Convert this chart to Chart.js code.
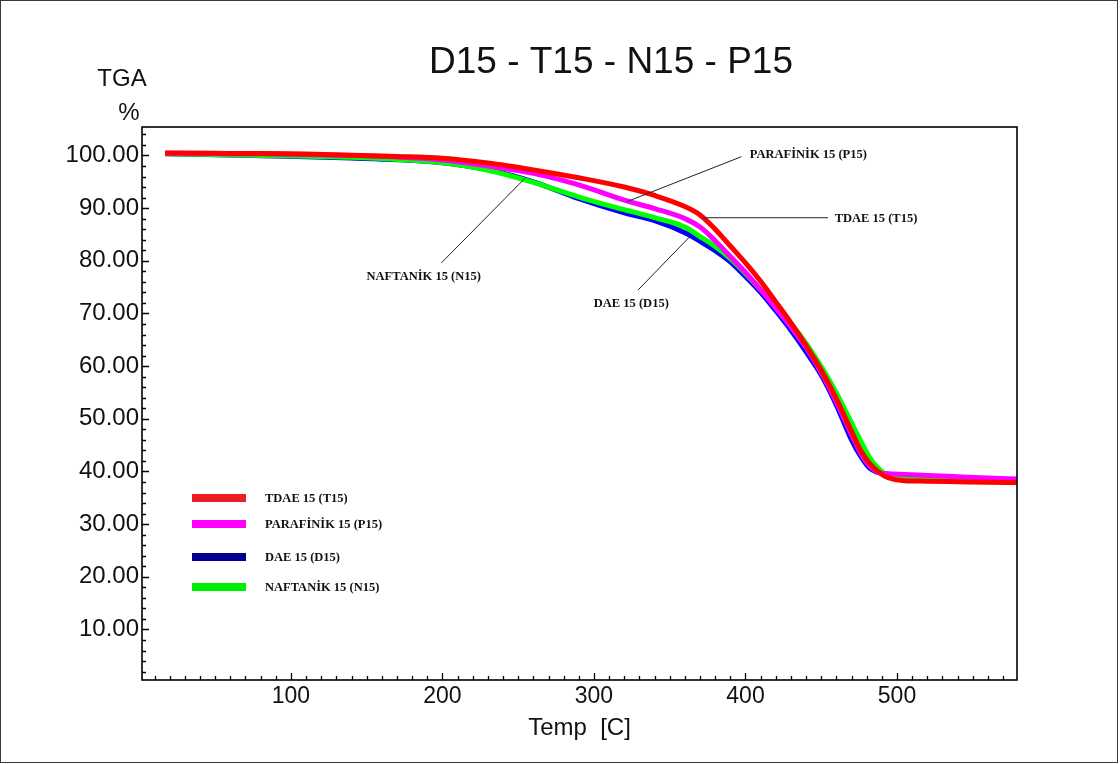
<!DOCTYPE html>
<html>
<head>
<meta charset="utf-8">
<title>D15 - T15 - N15 - P15</title>
<script src="https://cdn.jsdelivr.net/npm/chart.js@4.4.1/dist/chart.umd.min.js"></script>
<style>
  html, body { margin: 0; padding: 0; background: #fff; }
  #wrap { width: 1120px; height: 764px; }
  canvas { display: block; }
</style>
</head>
<body>
<div id="wrap"><canvas id="tga" width="1120" height="764"></canvas></div>
<script>
// Thermogravimetric curves: remaining mass (%) against temperature (°C)
const temperatures = [17, 50, 80, 110, 140, 170, 200, 230, 260, 290, 320, 340, 360, 370, 380, 390, 400,
  410, 420, 430, 440, 450, 460, 470, 476, 482, 487, 492, 498, 505, 520, 540, 560, 579];

const tdae15 = [100.45, 100.4, 100.35, 100.25, 100.05, 99.8, 99.45, 98.55, 97.25, 95.75, 94.0, 92.4, 90.3, 88.7, 86.0, 82.8, 79.6,
  76.1, 72.2, 68.2, 63.9, 59.2, 53.8, 47.6, 44.0, 41.5, 40.1, 39.1, 38.5, 38.25, 38.15, 38.05, 37.95, 37.9];

const parafinik15 = [100.4, 100.35, 100.3, 100.2, 100.0, 99.7, 99.15, 98.0, 96.6, 94.4, 91.5, 89.9, 88.0, 86.4, 83.8, 80.8, 77.8,
  74.5, 71.0, 67.4, 63.5, 58.8, 53.2, 47.0, 43.5, 41.0, 39.9, 39.6, 39.5, 39.4, 39.25, 39.0, 38.75, 38.55];

const dae15 = [100.3, 100.15, 99.95, 99.75, 99.5, 99.2, 98.6, 97.3, 95.0, 91.8, 89.1, 87.6, 85.3, 83.7, 81.9, 79.8, 77.0,
  74.0, 70.5, 66.8, 62.7, 58.3, 52.6, 46.0, 42.9, 40.6, 39.85, 39.6, 39.35, 39.2, 39.0, 38.8, 38.6, 38.4];

const naftanik15 = [100.3, 100.2, 100.0, 99.85, 99.65, 99.25, 98.6, 97.2, 94.9, 92.1, 89.7, 88.2, 86.4, 84.6, 82.7, 80.4, 77.6,
  74.5, 71.4, 68.1, 64.3, 59.9, 54.9, 49.2, 45.8, 42.6, 40.8, 39.6, 39.0, 38.8, 38.6, 38.4, 38.2, 38.1];

const seriesNames = ['TDAE 15 (T15)', 'PARAFİNİK 15 (P15)', 'DAE 15 (D15)', 'NAFTANİK 15 (N15)'];
const xTickValues = [100, 200, 300, 400, 500];
const yTickValues = [10, 20, 30, 40, 50, 60, 70, 80, 90, 100];

const chartTitle = 'D15 - T15 - N15 - P15';
const yTitle = ['TGA', '%'];
const xTitle = 'Temp  [C]';

// Callout labels: curve point (temperature, %), end of the leader, label anchor
const callouts = [
  { text: 'PARAFİNİK 15 (P15)', from: [321.5, 91.2], to: [397.3, 99.76], at: [402.8, 100.27] },
  { text: 'TDAE 15 (T15)',      from: [372.0, 88.17], to: [454.5, 88.17], at: [458.9, 88.17] },
  { text: 'DAE 15 (D15)',       from: [363.2, 84.57], to: [329.1, 74.45], at: [299.9, 71.98] },
  { text: 'NAFTANİK 15 (N15)',  from: [254.4, 95.65], to: [199.4, 79.63], at: [149.9, 77.1] }
];

const lineColors = ['#ff0000', '#ff00ff', '#0000ff', '#00ff00'];
const keyColors = ['#ee1c24', '#ff00ff', '#000090', '#00ee00'];

const sansFont = "'Liberation Sans', Arial, sans-serif";
const serifFont = "'Liberation Serif', 'Times New Roman', serif";

function pairs(values) {
  return temperatures.map((t, i) => ({ x: t, y: values[i] }));
}

function curve(label, values, color, order) {
  return {
    label, data: pairs(values), borderColor: color, backgroundColor: color,
    borderWidth: 5, pointRadius: 0, fill: false, order,
    cubicInterpolationMode: 'monotone', borderJoinStyle: 'round', borderCapStyle: 'butt'
  };
}

// White page, plot frame, inward ticks, titles, key and callouts
const decorations = {
  id: 'decorations',
  beforeDraw(chart) {
    const ctx = chart.ctx;
    ctx.save();
    ctx.fillStyle = '#fff';
    ctx.fillRect(0, 0, chart.width, chart.height);
    ctx.restore();
  },
  afterDraw(chart) {
    const { ctx, chartArea: a, scales: { x, y } } = chart;
    ctx.save();

    // inward tick marks
    ctx.strokeStyle = '#000';
    ctx.lineWidth = 1.3;
    ctx.beginPath();
    for (let t = 10; t <= 570; t += 10) {
      const px = Math.round(x.getPixelForValue(t)) + 0.5;
      const len = t % 100 === 0 ? 7 : 4;
      ctx.moveTo(px, a.bottom);
      ctx.lineTo(px, a.bottom - len);
    }
    for (let v = 2; v <= 104; v += 2) {
      const py = Math.round(y.getPixelForValue(v)) + 0.5;
      const len = v % 10 === 0 ? 7 : 4;
      ctx.moveTo(a.left, py);
      ctx.lineTo(a.left + len, py);
    }
    ctx.stroke();

    // plot frame
    ctx.lineWidth = 1.6;
    ctx.strokeRect(a.left, a.top, a.right - a.left, a.bottom - a.top);

    // chart title and vertical axis caption
    ctx.fillStyle = '#111';
    ctx.textAlign = 'center';
    ctx.textBaseline = 'middle';
    ctx.font = '37px ' + sansFont;
    ctx.fillText(chartTitle, 611, 63);
    ctx.font = '24px ' + sansFont;
    ctx.fillText(yTitle[0], 122, 79);
    ctx.fillText(yTitle[1], 129, 113);

    // key
    const keyRows = [371, 397, 430, 460];
    ctx.font = 'bold 12.5px ' + serifFont;
    ctx.textAlign = 'left';
    seriesNames.forEach((name, i) => {
      const cy = a.top + keyRows[i];
      ctx.fillStyle = keyColors[i];
      ctx.fillRect(a.left + 50, cy - 4, 54, 8);
      ctx.fillStyle = '#111';
      ctx.fillText(name, a.left + 123, cy + 1);
    });

    // callouts
    ctx.strokeStyle = '#222';
    ctx.lineWidth = 1;
    callouts.forEach(c => {
      ctx.beginPath();
      ctx.moveTo(x.getPixelForValue(c.from[0]), y.getPixelForValue(c.from[1]));
      ctx.lineTo(x.getPixelForValue(c.to[0]), y.getPixelForValue(c.to[1]));
      ctx.stroke();
      ctx.fillStyle = '#111';
      ctx.fillText(c.text, x.getPixelForValue(c.at[0]), y.getPixelForValue(c.at[1]) + 1);
    });

    // page border
    ctx.strokeStyle = '#3a3a3a';
    ctx.lineWidth = 1;
    ctx.strokeRect(0.5, 0.5, 1117, 762);
    ctx.restore();
  }
};

new Chart(document.getElementById('tga'), {
  type: 'line',
  data: {
    datasets: [
      curve(seriesNames[0], tdae15, lineColors[0], 0),
      curve(seriesNames[1], parafinik15, lineColors[1], 1),
      curve(seriesNames[2], dae15, lineColors[2], 3),
      curve(seriesNames[3], naftanik15, lineColors[3], 2)
    ]
  },
  options: {
    responsive: false,
    animation: false,
    devicePixelRatio: 1,
    parsing: false,
    layout: { padding: { left: 0, right: 103, top: 127, bottom: 0 } },
    plugins: {
      legend: { display: false },
      tooltip: { enabled: false },
      title: { display: false }
    },
    scales: {
      x: {
        type: 'linear',
        min: 1.7,
        max: 579.2,
        afterBuildTicks: s => { s.ticks = xTickValues.map(v => ({ value: v })); },
        afterFit: s => { s.height = 84; },
        grid: { display: false, drawTicks: false },
        border: { display: false },
        ticks: {
          padding: 3, autoSkip: false, maxRotation: 0, color: '#111',
          font: { family: sansFont, size: 23 },
          callback: v => String(v)
        },
        title: {
          display: true, text: xTitle, color: '#111',
          font: { family: sansFont, size: 24 },
          padding: { top: 0, bottom: 21.6 }
        }
      },
      y: {
        type: 'linear',
        min: 0.4,
        max: 105.4,
        afterBuildTicks: s => { s.ticks = yTickValues.map(v => ({ value: v })); },
        afterFit: s => { s.width = 142; },
        grid: { display: false, drawTicks: false },
        border: { display: false },
        ticks: {
          padding: 3, autoSkip: false, color: '#111',
          font: { family: sansFont, size: 24 },
          callback: v => Number(v).toFixed(2)
        }
      }
    }
  },
  plugins: [decorations]
});
</script>
</body>
</html>
